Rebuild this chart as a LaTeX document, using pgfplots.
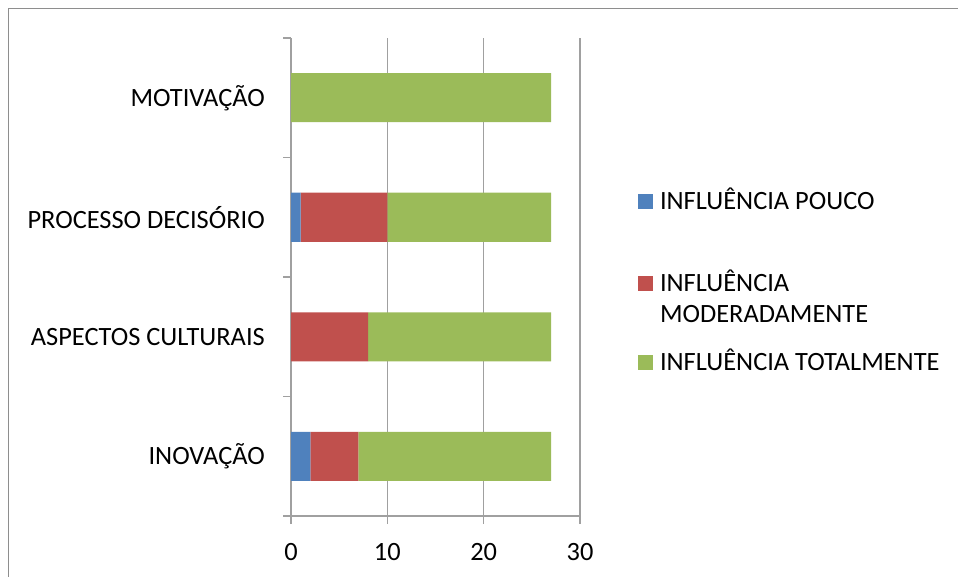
\documentclass[border=0pt]{standalone}
\usepackage{pgfplots}
\pgfplotsset{compat=1.18}
\usepackage{fontspec}
\setmainfont{Carlito}

\definecolor{pouco}{HTML}{4F81BD}
\definecolor{moder}{HTML}{C0504D}
\definecolor{total}{HTML}{9BBB59}
\definecolor{gridgray}{HTML}{A0A0A0}
\definecolor{framegray}{HTML}{8E8E8E}

\begin{document}
\begin{tikzpicture}[x=1pt,y=1pt,font=\fontsize{26.4}{31}\selectfont]
\useasboundingbox (0,0) rectangle (958,576);
% chart frame
\draw[framegray, line width=1.5pt] (8.5,-5) -- (8.5,567.5) -- (965,567.5);
\begin{axis}[
  at={(291pt,60pt)}, anchor=south west,
  scale only axis, width=289pt, height=478pt,
  xbar stacked, bar width=49pt,
  xmin=0, xmax=30, ymin=-0.5, ymax=3.5,
  enlargelimits=false,
  axis lines*=left,
  axis line style={gridgray, line width=1.5pt},
  xtick={0,10,20,30},
  ytick={0,1,2,3},
  yticklabels={INOVAÇÃO,ASPECTOS CULTURAIS,PROCESSO DECISÓRIO,MOTIVAÇÃO},
  minor ytick={-0.5,0.5,1.5,2.5,3.5},
  tick align=outside,
  major tick length=8pt, minor tick length=8pt,
  every major y tick/.append style={draw=none},
  every tick/.style={gridgray, line width=1.5pt},
  xmajorgrids,
  major x grid style={gridgray, line width=1.5pt},
  /pgf/number format/assume math mode=true,
  yticklabel style={anchor=east, inner sep=0pt, xshift=-18pt},
  xticklabel style={anchor=north, inner sep=0pt, yshift=-19pt},
  legend image code/.code={\fill[#1] (0pt,1pt) rectangle (15pt,16pt);},
  legend style={draw=none, fill=none, inner sep=0pt, outer sep=0pt,
    at={(1.2007,0.6856)}, anchor=north west, row sep=0pt,
    cells={anchor=base west},
    nodes={inner xsep=7pt, inner ysep=0pt, text depth=, text height=,
      font=\fontsize{26.4}{31}\selectfont}},
]
\addplot[fill=pouco, draw=none] coordinates {(2,0) (0,1) (1,2) (0,3)};
\addlegendentry{INFLUÊNCIA POUCO\rule[-60.3pt]{0pt}{21.7pt}}
\addplot[fill=moder, draw=none] coordinates {(5,0) (8,1) (9,2) (0,3)};
\addlegendentry{\begin{tabular}[t]{@{}l@{}}INFLUÊNCIA\\MODERADAMENTE\end{tabular}\rule[-57.3pt]{0pt}{21.7pt}}
\addplot[fill=total, draw=none] coordinates {(20,0) (19,1) (17,2) (27,3)};
\addlegendentry{INFLUÊNCIA TOTALMENTE\rule{0pt}{21.7pt}}
\end{axis}
\end{tikzpicture}
\end{document}
